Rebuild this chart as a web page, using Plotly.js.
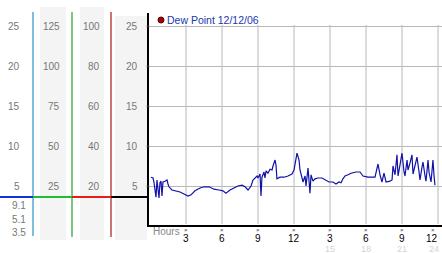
<!DOCTYPE html>
<html><head><meta charset="utf-8">
<script src="https://cdn.plot.ly/plotly-3.0.1.min.js"></script>
<style>html,body{margin:0;padding:0;background:#fff}#chart{width:442px;height:253px}</style>
</head><body><div id="chart"></div>
<script>
// ---- data ----
const hours = [0.08,0.25,0.33,0.5,0.58,0.75,0.83,0.92,1.0,1.08,1.25,1.42,1.5,1.58,1.83,2.17,2.5,2.83,3.17,3.42,3.75,4.17,4.5,4.92,5.33,5.75,6.08,6.33,6.67,7.0,7.33,7.67,7.92,8.17,8.42,8.58,8.75,8.92,9.0,9.17,9.25,9.33,9.5,9.58,9.67,9.83,10.0,10.17,10.25,10.42,10.5,10.58,10.83,11.17,11.5,11.83,12.0,12.17,12.25,12.42,12.5,12.67,12.75,12.92,13.0,13.17,13.33,13.42,13.58,13.75,14.0,14.33,14.58,14.92,15.25,15.5,15.75,15.92,16.08,16.25,16.5,16.75,17.17,17.5,17.75,18.17,18.75,18.92,19.0,19.17,19.33,19.5,19.67,20.0,20.17,20.25,20.42,20.58,20.67,20.83,21.0,21.17,21.25,21.42,21.5,21.67,21.83,21.92,22.08,22.25,22.42,22.5,22.67,22.75,22.92,23.0,23.17,23.25,23.42,23.5,23.58,23.67,23.75];
const dewPoint = [6.1,6.0,5.5,3.6,5.75,3.5,5.4,5.6,3.75,5.5,5.6,5.75,5.25,4.9,4.5,4.4,4.25,4.0,3.75,3.9,4.4,4.75,4.9,4.9,4.6,4.5,4.4,4.1,4.5,4.75,5.0,5.1,4.9,4.5,5.0,5.75,6.0,6.25,6.0,6.5,3.75,6.1,6.75,6.0,6.9,6.6,7.1,7.0,7.5,8.25,7.6,5.9,6.1,6.1,6.25,6.5,7.0,8.5,9.1,8.25,7.0,6.0,5.5,6.25,5.0,7.25,4.1,6.4,5.6,5.9,6.0,6.0,5.75,5.5,5.5,5.25,5.5,5.4,5.9,6.25,6.4,6.6,6.75,6.75,6.25,6.1,6.1,7.0,7.75,6.4,5.5,6.6,5.5,5.6,5.75,7.5,6.4,8.9,6.25,7.6,9.1,6.75,6.25,8.25,7.0,7.9,8.9,6.5,7.6,8.6,6.75,5.75,7.4,8.0,6.25,5.6,8.25,6.75,5.5,7.0,8.25,6.25,5.1];
const seriesName = "Dew Point 12/12/06";
const xTickVals = [3,6,9,12,15,18,21,24];
const xTickText = ["3","6","9","12","3","6","9","12"];
const clock24Vals = [15,18,21,24];
const clock24Text = ["15","18","21","24"];
const yTickVals = [5,10,15,20,25];
const col1Labels = [25,20,15,10,5];
const col2Labels = [125,100,75,50,25];
const col3Labels = [100,80,60,40,20];
const col4Labels = [25,20,15,10,5];
const extraLabels = ["9.1","5.1","3.5"];
const xAxisLabel = "Hours";

// ---- layout helpers ----
const W = 442, H = 253;
const px = x => x / W;
const py = y => 1 - y / H;
const FF = "Liberation Sans, Arial, sans-serif";
const lblFont = {family: FF, size: 10, color: "#777"};

const shapes = [];
const annotations = [];
// column backgrounds
[[40,66,7],[80,104,7],[115,147,16]].forEach(([x0,x1,y0]) => shapes.push({type:"rect",xref:"paper",yref:"paper",x0:px(x0),x1:px(x1),y0:py(240),y1:py(y0),fillcolor:"#f4f4f4",line:{width:0},layer:"below"}));
// column vertical lines
[[33,"#3a9ccc",236],[72,"#3aa63a",237],[111,"#b02a2a",237]].forEach(([x,c,yb]) => shapes.push({type:"line",xref:"paper",yref:"paper",x0:px(x),x1:px(x),y0:py(yb),y1:py(12),line:{color:c,width:1.3}}));
// horizontal colored segments
[[0,33,"#1133dd"],[33,72,"#22bb33"],[72,111,"#ee1a1a"],[111,149,"#000"]].forEach(([x0,x1,c]) => shapes.push({type:"line",xref:"paper",yref:"paper",x0:px(x0),x1:px(x1),y0:py(197),y1:py(197),line:{color:c,width:2.2}}));
// vertical grid lines
xTickVals.forEach(v => shapes.push({type:"line",xref:"x",yref:"paper",x0:v,x1:v,y0:py(224),y1:py(25),line:{color:"#b8b8b8",width:1},layer:"below"}));
// legend dot
shapes.push({type:"circle",xref:"paper",yref:"paper",x0:px(158),x1:px(164),y0:py(23),y1:py(17),fillcolor:"#b00000",line:{color:"#500000",width:1}});
annotations.push({xref:"paper",yref:"paper",x:px(165),y:py(20),xanchor:"left",yanchor:"middle",text:seriesName,showarrow:false,font:{family:FF,size:10.5,color:"#2038b0"}});

// left column labels
const addCol = (labels, scale, xr) => labels.forEach(l => annotations.push({xref:"paper",yref:"y",x:px(xr),y:l/scale,xanchor:"right",yanchor:"middle",text:String(l),showarrow:false,font:lblFont}));
addCol(col1Labels,1,22);
addCol(col2Labels,5,62);
addCol(col3Labels,4,102);
addCol(col4Labels,1,140);
extraLabels.forEach((t,i) => annotations.push({xref:"paper",yref:"paper",x:px(28),y:py([205,219,232][i]),xanchor:"right",yanchor:"middle",text:t,showarrow:false,font:lblFont}));
// Hours label
annotations.push({xref:"paper",yref:"paper",x:px(151),y:py(231),xanchor:"left",yanchor:"middle",text:xAxisLabel,showarrow:false,font:{family:FF,size:10,color:"#888"}});
// x tick labels and tick glyphs
xTickVals.forEach((v,i) => {
  const last = i === xTickVals.length - 1;
  annotations.push({xref:"x",yref:"paper",x:v,y:py(238),xanchor:last?"right":"center",xshift:last?1:0,yanchor:"middle",borderpad:0,text:xTickText[i],showarrow:false,font:{family:FF,size:10,color:"#000"}});
  annotations.push({xref:"x",yref:"paper",x:v,y:py(229.5),xanchor:last?"right":"center",xshift:last?-2:0,yanchor:"middle",text:"×",showarrow:false,borderpad:0,font:{family:FF,size:6,color:"#444"}});
});
// y tick glyphs
yTickVals.forEach(v => annotations.push({xref:"paper",yref:"y",x:px(147.5),y:v,xanchor:"center",yanchor:"middle",text:"×",showarrow:false,borderpad:0,font:{family:FF,size:6,color:"#444"}}));
// 24h clock labels
clock24Vals.forEach((v,i) => annotations.push({xref:"x",yref:"paper",x:v,y:py(248.5),xanchor:i===clock24Vals.length-1?"right":"center",xshift:i===clock24Vals.length-1?2:0,yanchor:"middle",borderpad:0,text:clock24Text[i],showarrow:false,font:{family:FF,size:9,color:"#d4d4d4"}}));

const traces = [
  {x: hours, y: dewPoint, type:"scatter", mode:"lines", line:{color:"#1010aa", width:1.2}, name:seriesName, hoverinfo:"x+y"}
];

const layout = {
  width: W, height: H,
  margin: {l:0, r:0, t:0, b:0},
  paper_bgcolor: "#fff", plot_bgcolor: "rgba(0,0,0,0)",
  showlegend: false,
  xaxis: {domain:[px(149),1], range:[-1/12, 292/12], showgrid:false, zeroline:false,
          showline:true, linecolor:"#000", linewidth:2, ticks:"", tickvals:xTickVals, showticklabels:false, fixedrange:true},
  yaxis: {domain:[py(224.5), py(13)], range:[(226-224.5)/8, (226-13)/8], showgrid:true, gridcolor:"#b8b8b8", gridwidth:1,
          tickvals:yTickVals, showticklabels:false, zeroline:false, showline:true, linecolor:"#000", linewidth:2, ticks:"", fixedrange:true},
  shapes: shapes,
  annotations: annotations
};
Plotly.newPlot("chart", traces, layout, {displayModeBar:false, staticPlot:true});
</script></body></html>
